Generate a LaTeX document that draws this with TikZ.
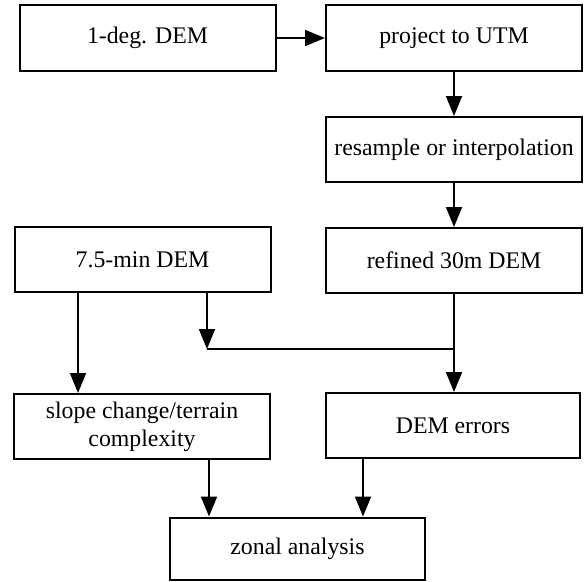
\documentclass[tikz,border=0pt]{standalone}
\usepackage{fontspec}
\setmainfont{Liberation Serif}
\usetikzlibrary{arrows.meta}
\begin{document}
\begin{tikzpicture}[x=1pt,y=-1pt,
  box/.style={draw, line width=2pt, rectangle, inner sep=0pt, align=center,
    minimum width=256pt, minimum height=65pt,
    font=\fontsize{23.8}{28}\selectfont},
  arr/.style={line width=1.8pt, -{Triangle[length=20pt,width=16pt]}},
  ln/.style={line width=1.8pt}]
\useasboundingbox (0,0) rectangle (585,581);
\node[box, minimum height=66pt] (deg) at (147.5,38) {1-deg. DEM};
\node[box, minimum height=66pt] (utm) at (454,38) {project to UTM};
\node[box] (res) at (454,149.5) {resample or interpolation};
\node[box] (ref) at (454,260.5) {refined 30m DEM};
\node[box] (min) at (142.5,259.5) {7.5-min DEM};
\node[box] (slope) at (142,426.5) {slope change/terrain\\complexity};
\node[box, minimum width=254pt] (err) at (453,425.5) {DEM errors};
\node[box, minimum width=255pt, minimum height=62pt] (zon) at (297.5,548.5) {zonal analysis};
\coordinate (a1) at (78,0);
\coordinate (j1) at (207,349);
\coordinate (a2) at (209,0);
\coordinate (a3) at (363,0);
\draw[arr] (deg.east) -- (utm.west);
\draw[arr] (utm.south) -- (res.north);
\draw[arr] (res.south) -- (ref.north);
\draw[arr] (min.south -| a1) -- (slope.north -| a1);
\draw[arr] (min.south -| j1) -- (j1);
\draw[ln] (j1) -- (j1 -| ref.south);
\draw[arr] (ref.south) -- (ref.south |- err.north);
\draw[arr] (slope.south -| a2) -- (zon.north -| a2);
\draw[arr] (err.south -| a3) -- (zon.north -| a3);
\end{tikzpicture}
\end{document}
